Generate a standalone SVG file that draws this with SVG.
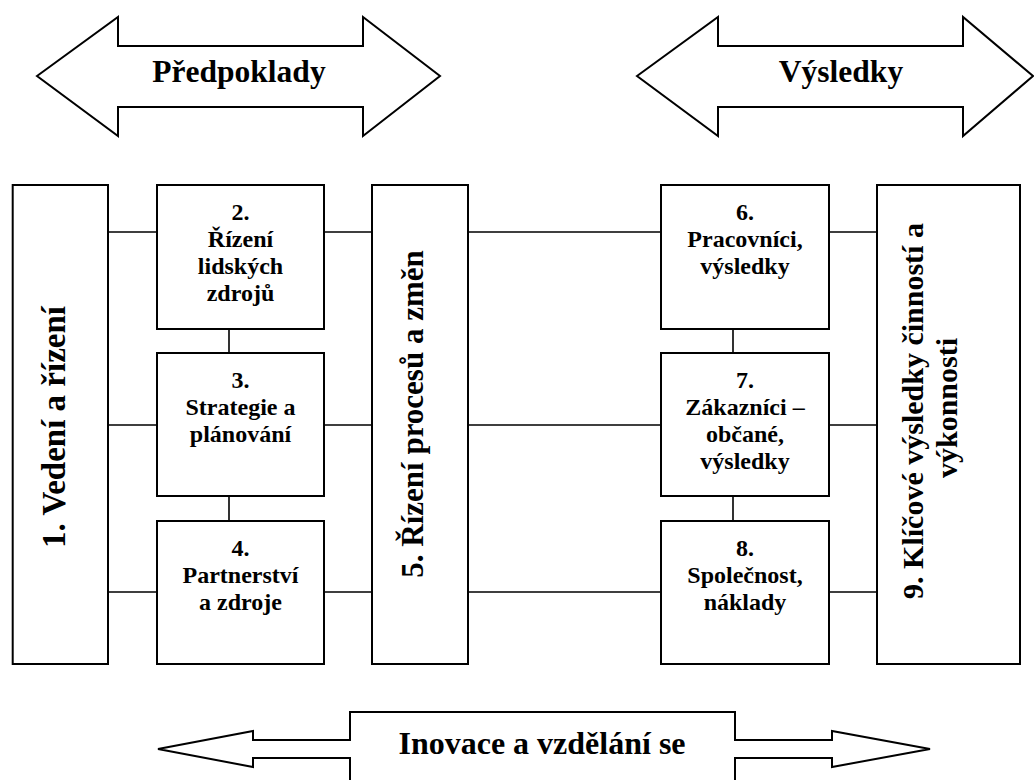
<svg xmlns="http://www.w3.org/2000/svg" width="1034" height="780" viewBox="0 0 1034 780">
<style>
.shape{fill:#fff;stroke:#000;stroke-width:2}
.ln{stroke:#000;stroke-width:1.6;fill:none}
text{font-family:"Liberation Serif","Times New Roman",serif;font-weight:bold;fill:#000;text-anchor:middle}
.bt{font-size:24px}
.at{font-size:31.5px}
</style>
<rect width="1034" height="780" fill="#fff"/>
<g id="connectors">
<path class="ln" d="M108,232H157M324,232H372M468,232H661M829,232H877"/>
<path class="ln" d="M108,425H157M324,425H372M468,425H661M829,425H877"/>
<path class="ln" d="M108,592H157M324,592H372M468,592H661M829,592H877"/>
<path class="ln" d="M229,329V353M229,496V521M733,329V353M733,496V521"/>
</g>
<g id="arrow-predpoklady">
<polygon class="shape" points="37,76 118,17 118,46 363,46 363,17 440,76 363,136 363,107 118,107 118,136"/>
<text class="at" x="239" y="82">Předpoklady</text>
</g>
<g id="arrow-vysledky">
<polygon class="shape" points="637,76 718,17 718,46 963,46 963,17 1033,76 963,136 963,107 718,107 718,136"/>
<text class="at" x="841" y="82">Výsledky</text>
</g>
<g id="arrow-inovace">
<polygon class="shape" points="158,749 253,731 253,740 350,740 350,712 735,712 735,740 832,740 832,731 930,749 832,767 832,758 735,758 735,800 350,800 350,758 253,758 253,767"/>
<text style="font-size:32px" x="542" y="754">Inovace a vzdělání se</text>
</g>
<g id="node1">
<rect class="shape" x="12.7" y="185" width="95.3" height="479"/>
<text style="font-size:33px" transform="translate(65,427) rotate(-90)">1. Vedení a řízení</text>
</g>
<g id="node2">
<rect class="shape" x="157" y="185" width="167" height="144"/>
<text class="bt" x="240.5"><tspan x="240.5" y="220">2.</tspan><tspan x="240.5" y="247">Řízení</tspan><tspan x="240.5" y="274">lidských</tspan><tspan x="240.5" y="301">zdrojů</tspan></text>
</g>
<g id="node3">
<rect class="shape" x="157" y="353" width="167" height="143"/>
<text class="bt"><tspan x="240.5" y="388">3.</tspan><tspan x="240.5" y="415">Strategie a</tspan><tspan x="240.5" y="442">plánování</tspan></text>
</g>
<g id="node4">
<rect class="shape" x="157" y="521" width="167" height="143"/>
<text class="bt"><tspan x="240.5" y="556">4.</tspan><tspan x="240.5" y="583">Partnerství</tspan><tspan x="240.5" y="610">a zdroje</tspan></text>
</g>
<g id="node5">
<rect class="shape" x="372" y="185" width="96" height="479"/>
<text style="font-size:31px" transform="translate(423,414) rotate(-90)">5. Řízení procesů a změn</text>
</g>
<g id="node6">
<rect class="shape" x="661" y="185" width="168" height="144"/>
<text class="bt"><tspan x="745" y="220">6.</tspan><tspan x="745" y="247">Pracovníci,</tspan><tspan x="745" y="274">výsledky</tspan></text>
</g>
<g id="node7">
<rect class="shape" x="661" y="353" width="168" height="143"/>
<text class="bt"><tspan x="745" y="388">7.</tspan><tspan x="745" y="415">Zákazníci –</tspan><tspan x="745" y="442">občané,</tspan><tspan x="745" y="469">výsledky</tspan></text>
</g>
<g id="node8">
<rect class="shape" x="661" y="521" width="168" height="143"/>
<text class="bt"><tspan x="745" y="556">8.</tspan><tspan x="745" y="583">Společnost,</tspan><tspan x="745" y="610">náklady</tspan></text>
</g>
<g id="node9">
<rect class="shape" x="877" y="185" width="143" height="479"/>
<text style="font-size:30px" transform="translate(923,411) rotate(-90)">9. Klíčové výsledky činností a</text>
<text style="font-size:30px" transform="translate(957,408) rotate(-90)">výkonnosti</text>
</g>
</svg>
